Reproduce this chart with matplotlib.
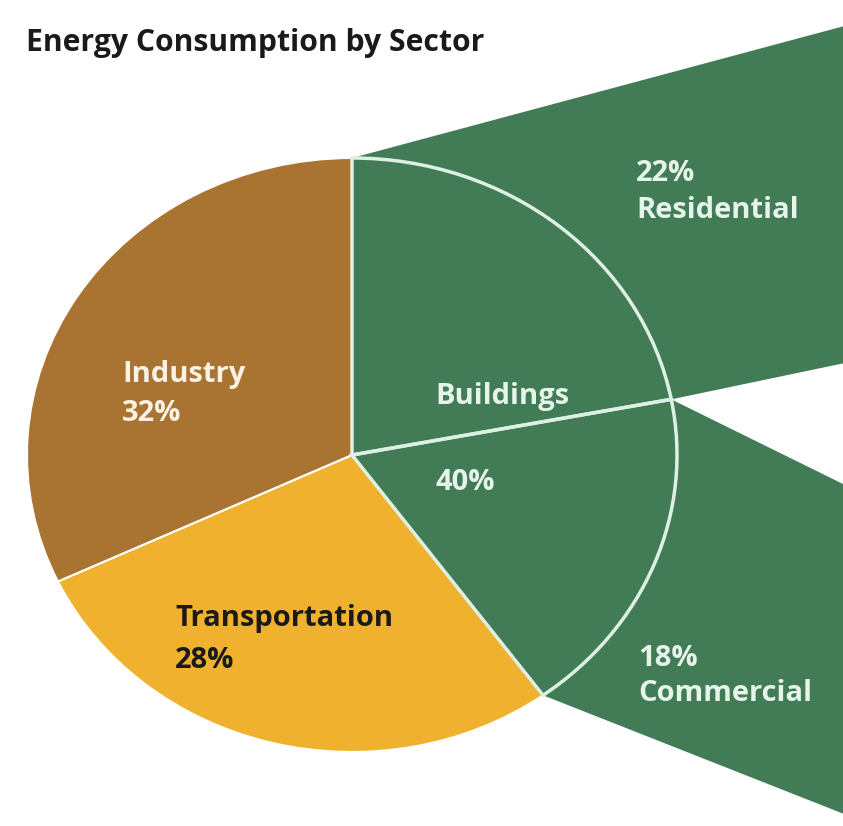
import numpy as np
import matplotlib.pyplot as plt
from matplotlib.patches import Polygon

# data
sectors = ['Buildings', 'Transportation', 'Industry']
shares = [40, 28, 32]
sector_colors = ['#427C57', '#F0B22E', '#A97332']

building_parts = ['Residential', 'Commercial']
building_shares = [22, 18]

W, H = 843, 826
plt.rcParams['font.family'] = ['Open Sans', 'DejaVu Sans']

fig = plt.figure(figsize=(W / 100, H / 100), dpi=100)
ax = fig.add_axes([0, 0, 1, 1])

# pie centre and radii in pixels (the picture is a bit wider than tall)
cx, cy, rx, ry = 352, 455, 325, 297

wedges, _ = ax.pie(shares, colors=sector_colors, startangle=90, counterclock=False,
                   wedgeprops=dict(edgecolor='white', linewidth=1.5))

# split of the buildings slice
rest = sum(shares) - sum(building_shares)
parts, _ = ax.pie(building_shares + [rest], startangle=90, counterclock=False,
                  colors=['none'] * 3,
                  wedgeprops=dict(edgecolor='#DDF0E3', linewidth=2.5))
parts[2].set_visible(False)

ax.set_aspect('auto')
ax.set_xlim(-cx / rx, (W - cx) / rx)
ax.set_ylim(-(H - cy) / ry, cy / ry)
ax.axis('off')


def on_rim(deg):
    a = np.radians(deg)
    return (np.cos(a), np.sin(a))


def ypix(p):
    return (cy - p) / ry


# fans that spread the residential and commercial parts out to the right
X = ax.get_xlim()[1] + 0.05
res, com = parts[0], parts[1]
top = on_rim(res.theta2)
split = on_rim(res.theta1)
bottom = on_rim(com.theta1)
green = sector_colors[0]
ax.add_patch(Polygon([top, (X, ypix(22)), (X, ypix(360)), split],
                     closed=True, facecolor=green, edgecolor='none', zorder=0))
ax.add_patch(Polygon([split, (X, ypix(492)), (X, ypix(820)), bottom],
                     closed=True, facecolor=green, edgecolor='none', zorder=0))


def label(x, y, s, color):
    fig.text(x / W, 1 - y / H, s, color=color, fontsize=21, fontweight='bold',
             ha='left', va='baseline')


fig.text(26 / W, 1 - 51 / H, 'Energy Consumption by Sector', fontsize=21.7,
         fontweight='bold', color='#1a1a1a', ha='left', va='baseline')

label(122, 382, 'Industry', '#FBF1E4')
label(122, 421, f'{shares[2]}%', '#FBF1E4')
label(175, 626, 'Transportation', '#1a1a1a')
label(175, 668, f'{shares[1]}%', '#1a1a1a')
label(435, 404, 'Buildings', '#E6F4EA')
label(435, 490, f'{shares[0]}%', '#E6F4EA')
label(636, 181, f'{building_shares[0]}%', '#E6F4EA')
label(636, 218, building_parts[0], '#E6F4EA')
label(638, 666, f'{building_shares[1]}%', '#E6F4EA')
label(638, 701, building_parts[1], '#E6F4EA')

fig.savefig('out.png', dpi=100)
